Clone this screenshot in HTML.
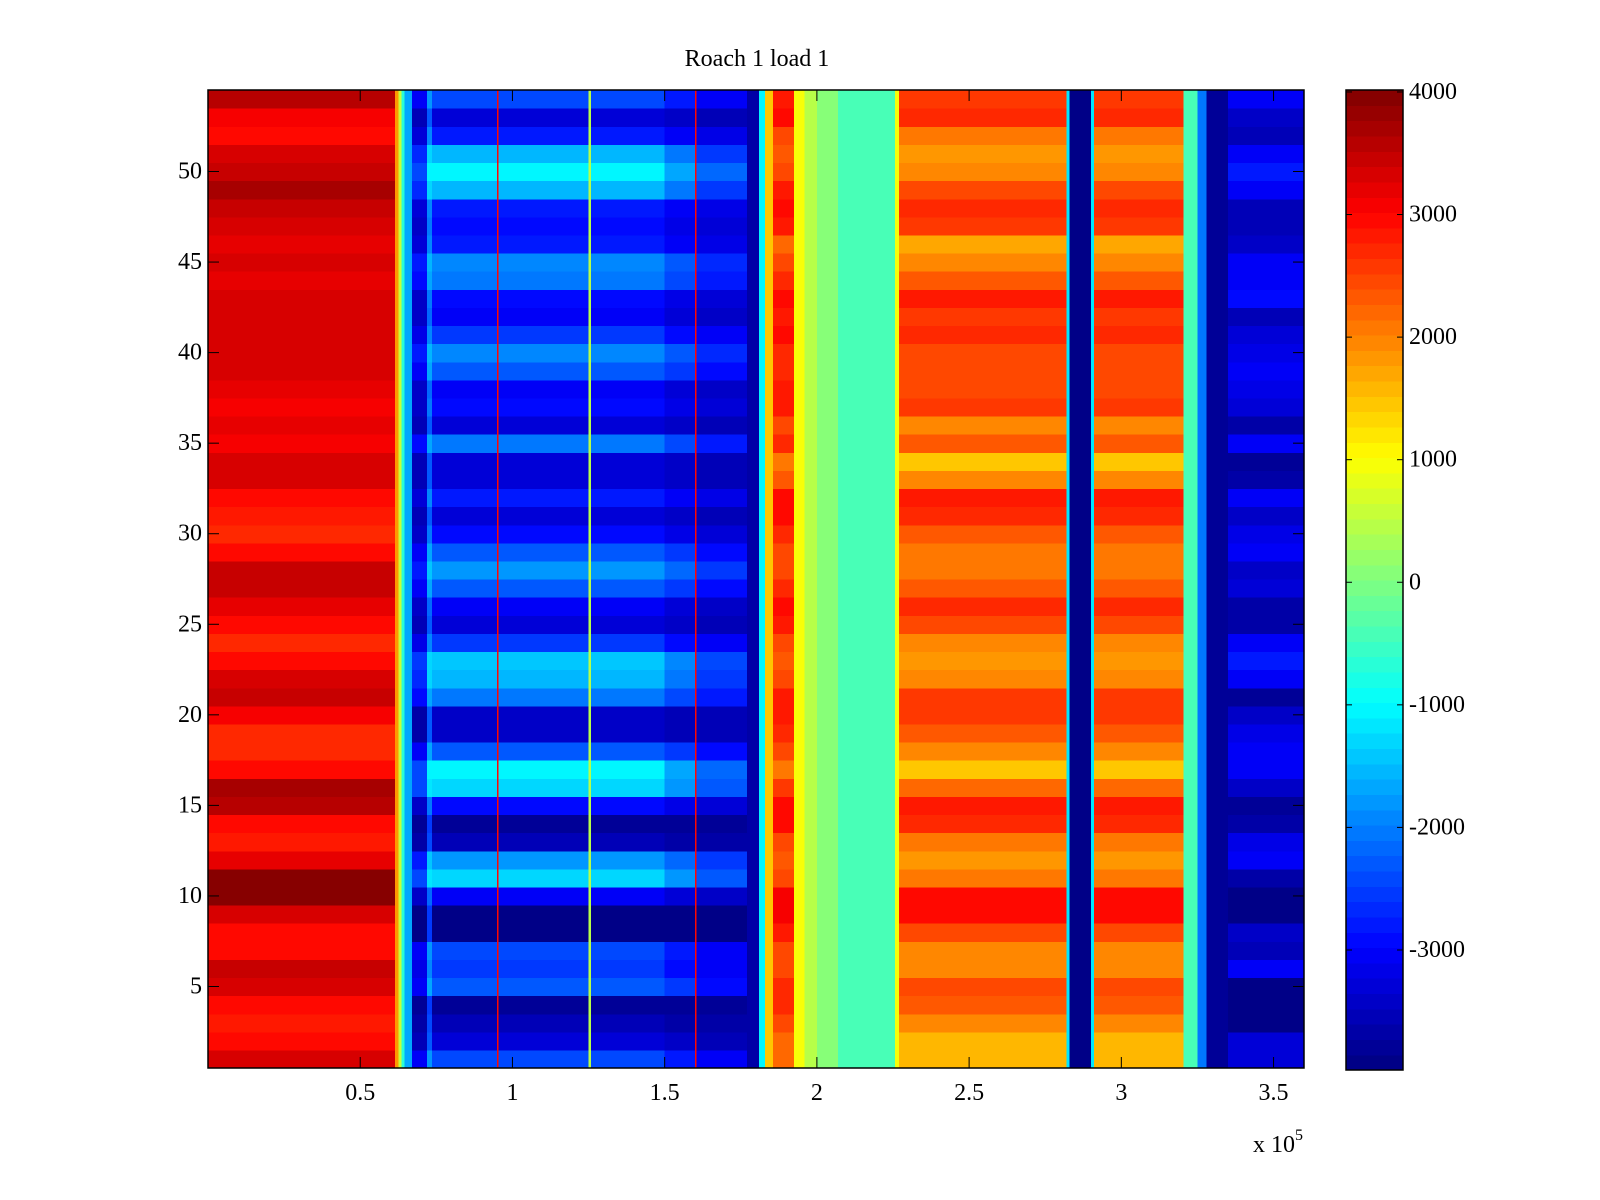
<!DOCTYPE html>
<html><head><meta charset="utf-8"><style>
html,body{margin:0;padding:0;background:#fff;}
svg{display:block;font-family:"Liberation Serif",serif;}
</style></head><body>
<svg id="chart" width="1600" height="1200" viewBox="0 0 1600 1200">
<g id="cells" shape-rendering="crispEdges"></g>
<g id="cbar" shape-rendering="crispEdges"></g>
<g id="axes"></g>
<text x="757" y="66" font-size="24" text-anchor="middle">Roach 1 load 1</text>
<text x="1253" y="1152" font-size="24">x 10<tspan dy="-12" font-size="16">5</tspan></text>
</svg>
<script>
// Row factors (row 1..54)
const rowR=[0.6,0.4,0.35,0.45,0.6,0.7,0.45,0.45,0.6,0.95,0.95,0.55,0.35,0.4,0.75,0.85,0.45,0.3,0.25,0.5,0.7,0.65,0.4,0.25,0.4,0.55,0.7,0.7,0.45,0.3,0.35,0.45,0.6,0.65,0.5,0.55,0.5,0.55,0.6,0.65,0.6,0.65,0.6,0.55,0.6,0.55,0.6,0.7,0.85,0.7,0.6,0.45,0.5,0.75];
const rowB=[0.45,0.2,0.1,0.05,0.5,0.4,0.45,0.0,0.0,0.25,0.8,0.65,0.1,0.05,0.3,0.8,0.85,0.5,0.15,0.15,0.55,0.7,0.75,0.4,0.2,0.25,0.5,0.65,0.5,0.3,0.2,0.35,0.2,0.2,0.55,0.2,0.3,0.25,0.5,0.6,0.4,0.25,0.3,0.55,0.6,0.35,0.3,0.35,0.7,0.85,0.7,0.35,0.2,0.45];
const rowO=[0.3,0.3,0.5,0.65,0.7,0.5,0.5,0.75,0.95,0.95,0.55,0.4,0.55,0.85,0.9,0.6,0.25,0.5,0.65,0.8,0.8,0.5,0.4,0.5,0.75,0.85,0.65,0.55,0.55,0.65,0.85,0.9,0.45,0.25,0.65,0.5,0.8,0.75,0.7,0.7,0.85,0.8,0.9,0.65,0.5,0.35,0.8,0.85,0.75,0.5,0.4,0.55,0.85,0.8];
const rowQ=[0.35,0.35,0.0,0.0,0.0,0.5,0.2,0.3,0.0,0.0,0.1,0.5,0.4,0.15,0.05,0.25,0.45,0.5,0.4,0.25,0.05,0.5,0.6,0.5,0.15,0.1,0.35,0.3,0.45,0.4,0.3,0.45,0.1,0.05,0.45,0.1,0.35,0.4,0.45,0.4,0.35,0.2,0.55,0.5,0.45,0.3,0.2,0.2,0.45,0.6,0.45,0.2,0.3,0.5];
const rowN=new Array(54).fill(0);
// Column segments (x in units of 1e5)
const segStart=[0,0.615,0.625,0.635,0.645,0.67,0.72,0.735,0.95,0.955,1.25,1.258,1.5,1.6,1.605,1.77,1.81,1.83,1.856,1.925,1.96,2.0,2.07,2.256,2.27,2.82,2.83,2.9,2.91,3.205,3.25,3.28,3.35];
const segEnd  =[0.615,0.625,0.635,0.645,0.67,0.72,0.735,0.95,0.955,1.25,1.258,1.5,1.6,1.605,1.77,1.81,1.83,1.856,1.925,1.96,2.0,2.07,2.256,2.27,2.82,2.83,2.9,2.91,3.205,3.25,3.28,3.35,3.6];
const segBase =[2200,1800,600,-700,-1700,-3900,-2600,-3900,3000,-3900,500,-3900,-3900,3000,-3900,-3700,-1000,1500,1800,1000,500,100,-380,1000,1000,-1200,-3900,-1200,1000,-400,-2000,-3800,-3900];
const segAmp  =[1800,0,0,0,0,1800,1800,3300,0,3300,0,3300,2600,0,2000,0,0,0,1300,0,0,0,0,0,2000,0,0,0,2000,0,0,0,1800];
const segKey  =["R","N","N","N","N","B","B","B","N","B","N","B","B","N","B","N","N","N","O","N","N","N","N","N","O","N","N","N","O","N","N","N","Q"];
// Axis ticks
const xTicks=[0.5,1,1.5,2,2.5,3,3.5];
const xTickLabels=["0.5","1","1.5","2","2.5","3","3.5"];
const yTicks=[5,10,15,20,25,30,35,40,45,50];
const cTicks=[4000,3000,2000,1000,0,-1000,-2000,-3000];
const cTickLabels=["4000","3000","2000","1000","0","-1000","-2000","-3000"];
const cMin=-3979, cMax=4016, nRows=54, xMax=3.6;

const L=208,R=1304,T=90,B=1068;
const NS="http://www.w3.org/2000/svg";
const xS=x=>L+x/xMax*(R-L);
const yS=v=>B-(v-0.5)/nRows*(B-T);
function jet(v){
  let t=(v-cMin)/(cMax-cMin); t=Math.max(0,Math.min(1,t));
  t=(Math.min(63,Math.floor(t*64))+0.5)/64;
  const c=a=>Math.round(255*Math.max(0,Math.min(1,1.5-Math.abs(4*t-a))));
  return `rgb(${c(3)},${c(2)},${c(1)})`;
}
const rows={R:rowR,B:rowB,O:rowO,Q:rowQ,N:rowN};
const cells=document.getElementById('cells');
for(let r=1;r<=nRows;r++){
  for(let s=0;s<segStart.length;s++){
    const v=segBase[s]+segAmp[s]*rows[segKey[s]][r-1];
    const rc=document.createElementNS(NS,'rect');
    const x0=xS(segStart[s]),x1=xS(segEnd[s]);
    const y0=yS(r+0.5),y1=yS(r-0.5);
    rc.setAttribute('x',x0.toFixed(2));rc.setAttribute('y',y0.toFixed(2));
    rc.setAttribute('width',(x1-x0+0.6).toFixed(2));rc.setAttribute('height',(y1-y0+0.6).toFixed(2));
    rc.setAttribute('fill',jet(v));
    
    
    cells.appendChild(rc);
  }
}
// colorbar
const CL=1346,CR=1403,CT=90,CB=1070;
const cY=v=>CB-(v-cMin)/(cMax-cMin)*(CB-CT);
const cb=document.getElementById('cbar');
for(let i=0;i<64;i++){
  const v0=cMin+i/64*(cMax-cMin), v1=cMin+(i+1)/64*(cMax-cMin);
  const rc=document.createElementNS(NS,'rect');
  rc.setAttribute('x',CL);rc.setAttribute('y',cY(v1).toFixed(2));
  rc.setAttribute('width',CR-CL);rc.setAttribute('height',(cY(v0)-cY(v1)+0.6).toFixed(2));
  rc.setAttribute('fill',jet((v0+v1)/2));
  
  
  cb.appendChild(rc);
}
const ax=document.getElementById('axes');
function add(tag,attrs,text,name){
  const e=document.createElementNS(NS,tag);
  for(const k in attrs)e.setAttribute(k,attrs[k]);
  if(text!==undefined)e.textContent=text;
  
  
  ax.appendChild(e);return e;
}
add('rect',{x:L,y:T,width:R-L,height:B-T,fill:'none',stroke:'#000','stroke-width':1.5},undefined,'plot-frame');
add('rect',{x:CL,y:CT,width:CR-CL,height:CB-CT,fill:'none',stroke:'#000','stroke-width':1.5},undefined,'colorbar-frame');
xTicks.forEach((t,i)=>{
  const x=xS(t);
  add('line',{x1:x,y1:B,x2:x,y2:B-11,stroke:'#000','stroke-width':1},undefined,'x-tick');
  add('line',{x1:x,y1:T,x2:x,y2:T+11,stroke:'#000','stroke-width':1},undefined,'x-tick-top');
  add('text',{x:x,y:B+32,'font-size':24,'text-anchor':'middle'},xTickLabels[i],'x-tick-label');
});
yTicks.forEach(t=>{
  const y=yS(t);
  add('line',{x1:L,y1:y,x2:L+11,y2:y,stroke:'#000','stroke-width':1},undefined,'y-tick');
  add('line',{x1:R,y1:y,x2:R-11,y2:y,stroke:'#000','stroke-width':1},undefined,'y-tick-right');
  add('text',{x:L-6,y:y+7,'font-size':24,'text-anchor':'end'},String(t),'y-tick-label');
});
cTicks.forEach((t,i)=>{
  const y=cY(t);
  add('line',{x1:CL,y1:y,x2:CL+6,y2:y,stroke:'#000','stroke-width':1},undefined,'colorbar-tick');
  add('line',{x1:CR,y1:y,x2:CR-6,y2:y,stroke:'#000','stroke-width':1},undefined,'colorbar-tick-right');
  add('text',{x:CR+6,y:y+7,'font-size':24},cTickLabels[i],'colorbar-tick-label');
});
</script>
</body></html>
